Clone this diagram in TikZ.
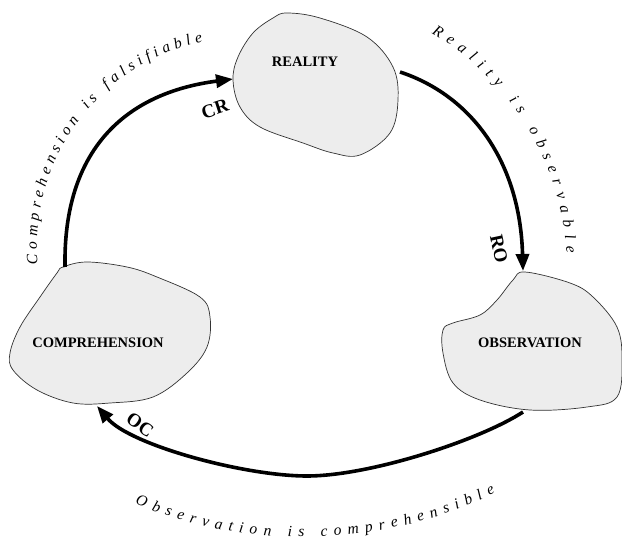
\documentclass[tikz,border=0pt]{standalone}
\usepackage{fontspec}
\setmainfont{Liberation Serif}
\usetikzlibrary{arrows.meta,decorations.text}
\newcommand\myCurveFont{\fontsize{15.5}{18}\selectfont\itshape}
\begin{document}
\begin{tikzpicture}[x=1pt,y=1pt,
  blob/.style={draw=black!80, line width=0.7pt, fill=gray!14},
  conn/.style={line width=3.6pt, -{Triangle[length=17pt,width=13pt]}},
  boxlabel/.style={font=\fontsize{14.5}{17}\selectfont\bfseries, inner sep=0pt},
  arclabel/.style={font=\fontsize{19}{22}\selectfont\bfseries, inner sep=0pt},
  curvetext/.style={decorate, decoration={text along path, text align={fit to path}, text={#1}}}
]
\useasboundingbox (0,0) rectangle (622,-540);

% blobs
\draw[blob] plot[smooth cycle, tension=0.6] coordinates {
  (273,-18) (287,-13) (320,-18) (367,-37) (393,-67) (398,-100) (390,-133)
  (360,-155) (333,-153) (303,-143) (260,-127) (240,-107) (233,-80) (238,-57) (253,-33)};
\draw[blob] plot[smooth cycle, tension=0.6] coordinates {
  (63,-267) (87,-262) (127,-267) (157,-277) (200,-297) (210,-317) (207,-347)
  (187,-373) (153,-397) (110,-403) (73,-403) (37,-390) (13,-370) (10,-353)
  (20,-327) (40,-297) (57,-273)};
\draw[blob] plot[smooth cycle, tension=0.6] coordinates {
  (525,-272) (570,-283) (593,-297) (617,-327) (622,-360) (617,-397) (587,-407)
  (530,-410) (480,-400) (453,-383) (443,-353) (443,-330) (453,-323) (480,-315)
  (497,-300) (513,-280)};

\node[boxlabel] (reality) at (305,-62) {REALITY};
\node[boxlabel] (comprehension) at (98,-343) {COMPREHENSION};
\node[boxlabel] (observation) at (530,-343) {OBSERVATION};

% connector end points on blob outlines
\coordinate (cTop) at (65,-267);
\coordinate (rLeft) at (233,-79);
\coordinate (rRight) at (400,-72);
\coordinate (oTop) at (523,-271);
\coordinate (oBottom) at (523,-412);
\coordinate (ocMid) at (307,-476);
\coordinate (cBottom) at (97,-406);

\draw[conn] (cTop) .. controls (63,-150) and (125,-93) .. (rLeft);
\draw[conn] (rRight) .. controls (470,-95) and (520,-160) .. (oTop);
\draw[conn] (oBottom) .. controls (480,-440) and (370,-476) .. (ocMid)
  .. controls (244,-476) and (130,-445) .. (cBottom);

\node[arclabel, rotate=18] (cr) at (215,-109) {CR};
\node[arclabel, rotate=-78] (ro) at (499,-249) {RO};
\node[arclabel, rotate=-35] (oc) at (140,-425) {OC};

% curved captions
\path[curvetext={|\myCurveFont|Comprehension is falsifiable}]
  (246,-246) ++(185:209) arc[start angle=185, end angle=102, radius=209];
\path[curvetext={|\myCurveFont|Reality is observable}]
  (292,-270) ++(59.5:275) arc[start angle=59.5, end angle=3.5, radius=275];
\path[curvetext={|\myCurveFont|Observation is comprehensible}]
  (303,-94) ++(-112.3:443) arc[start angle=-112.3, end angle=-64.3, radius=443];
\end{tikzpicture}
\end{document}
